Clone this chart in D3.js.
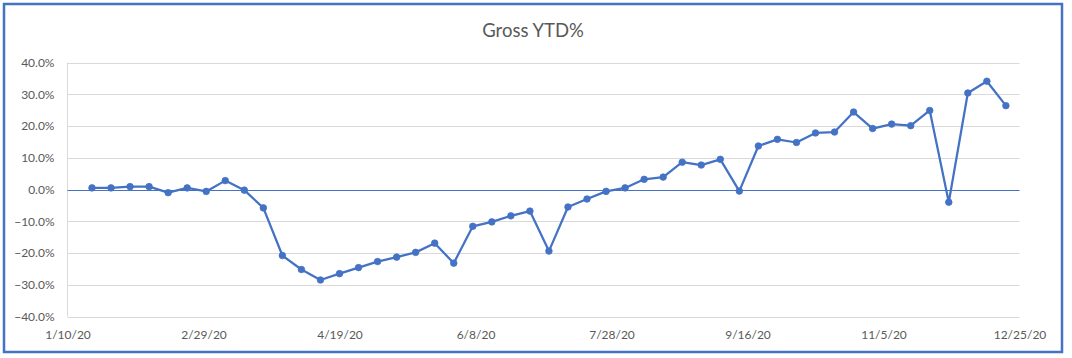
<!DOCTYPE html>
<html>
<head>
<meta charset="utf-8">
<script src="https://cdn.jsdelivr.net/npm/d3@7"></script>
<style>
  html, body { margin: 0; padding: 0; background: #fff; }
  svg { display: block; }
  text { font-family: Lato, "Open Sans", "Liberation Sans", sans-serif; }
</style>
</head>
<body>
<svg id="chart" width="1072" height="358"></svg>
<script>
// ---- data ----
const title = "Gross YTD%";
const startDate = "2020-01-19"; // first weekly observation
const values = [
  0.5, 0.5, 0.9, 0.9, -1.0, 0.5, -0.6, 2.8, -0.2, -5.8,
  -20.8, -25.2, -28.5, -26.5, -24.6, -22.7, -21.3, -19.8, -16.9, -23.2,
  -11.6, -10.2, -8.3, -6.8, -19.4, -5.5, -3.0, -0.6, 0.5, 3.2,
  3.9, 8.6, 7.7, 9.5, -0.5, 13.7, 15.8, 14.8, 17.8, 18.1,
  24.4, 19.2, 20.6, 20.1, 24.9, -4.0, 30.4, 34.1, 26.4
];
const xTickLabels = ["1/10/20", "2/29/20", "4/19/20", "6/8/20", "7/28/20", "9/16/20", "11/5/20", "12/25/20"];
const yTicks = [-40, -30, -20, -10, 0, 10, 20, 30, 40];

// ---- build ----
const parse = d3.timeParse("%m/%d/%y");
const xTickDates = xTickLabels.map(parse);
const start = d3.timeParse("%Y-%m-%d")(startDate);
const data = values.map((v, i) => ({ date: d3.timeDay.offset(start, 7 * i), value: v }));

const svg = d3.select("#chart");
const m = { left: 67.5, right: 1019.5, top: 62.5, bottom: 316.5 };

const x = d3.scaleTime().domain([xTickDates[0], xTickDates[xTickDates.length - 1]]).range([m.left, m.right]);
const y = d3.scaleLinear().domain([-40, 40]).range([m.bottom, m.top]);

// outer border
svg.append("rect").attr("x", 4).attr("y", 4).attr("width", 1058).attr("height", 348)
  .attr("fill", "#fff").attr("stroke", "#4472C4").attr("stroke-width", 2.5);

// title
svg.append("text").attr("x", 533).attr("y", 37).attr("text-anchor", "middle")
  .attr("font-size", 18.5).attr("fill", "#595959").text(title);

// gridlines
svg.append("g").selectAll("line").data(yTicks.filter(t => t !== 0)).join("line")
  .attr("x1", m.left).attr("x2", m.right)
  .attr("y1", d => Math.round(y(d)) + 0.5).attr("y2", d => Math.round(y(d)) + 0.5)
  .attr("stroke", "#D9D9D9").attr("stroke-width", 1);

// left axis line (light)
svg.append("line").attr("x1", m.left).attr("x2", m.left).attr("y1", y(40)).attr("y2", y(-40))
  .attr("stroke", "#D9D9D9").attr("stroke-width", 1);

// y axis labels
const yAxis = d3.axisLeft(y).tickValues(yTicks).tickSize(0).tickPadding(13)
  .tickFormat(d => d3.format(".1f")(d) + "%");
const gy = svg.append("g").attr("transform", `translate(${m.left},0)`).call(yAxis);
gy.select(".domain").remove();
gy.selectAll("text").attr("font-size", 12).attr("fill", "#595959")
  .style("font-family", "Lato, 'Open Sans', sans-serif");

// x axis labels
const xAxis = d3.axisBottom(x).tickValues(xTickDates).tickSize(0).tickPadding(14)
  .tickFormat((d, i) => xTickLabels[i]);
const gx = svg.append("g").attr("transform", `translate(0,${m.bottom})`).call(xAxis);
gx.select(".domain").remove();
gx.selectAll("text").attr("font-size", 12).attr("fill", "#595959")
  .style("font-family", "Lato, 'Open Sans', sans-serif");

// zero line (horizontal axis)
svg.append("line").attr("x1", m.left).attr("x2", m.right)
  .attr("y1", Math.round(y(0)) + 0.5).attr("y2", Math.round(y(0)) + 0.5)
  .attr("stroke", "#4472C4").attr("stroke-width", 1);

// series line
const line = d3.line().x(d => x(d.date)).y(d => y(d.value));
svg.append("path").datum(data).attr("d", line)
  .attr("fill", "none").attr("stroke", "#4472C4").attr("stroke-width", 2.25)
  .attr("stroke-linejoin", "round");

// markers
svg.append("g").selectAll("circle").data(data).join("circle")
  .attr("cx", d => x(d.date)).attr("cy", d => y(d.value)).attr("r", 3.3)
  .attr("fill", "#4472C4").attr("stroke", "#4472C4").attr("stroke-width", 0.75);
</script>
</body>
</html>
